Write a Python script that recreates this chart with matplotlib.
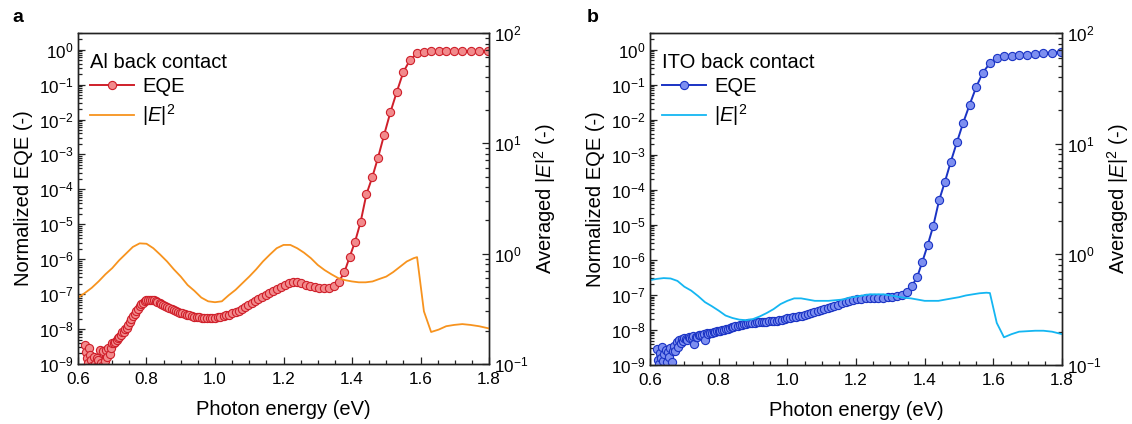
import numpy as np
import matplotlib
matplotlib.use("Agg")
import matplotlib.pyplot as plt
from matplotlib.ticker import LogLocator, MultipleLocator, FormatStrFormatter, NullFormatter

plt.rcParams['font.family'] = ['Liberation Sans', 'DejaVu Sans']
plt.rcParams['mathtext.fontset'] = 'custom'
plt.rcParams['mathtext.rm'] = 'Liberation Sans'
plt.rcParams['mathtext.it'] = 'Liberation Sans:italic'
plt.rcParams['mathtext.default'] = 'regular'

# EQE scan points (photon energy, eV)
energy_eqe = [
    0.620, 0.623, 0.626, 0.629, 0.633, 0.636, 0.639, 0.642, 0.646, 0.649, 0.653, 0.656,
    0.659, 0.663, 0.667, 0.670, 0.674, 0.678, 0.681, 0.685, 0.689, 0.693, 0.697, 0.700,
    0.704, 0.708, 0.713, 0.717, 0.721, 0.725, 0.729, 0.734, 0.738, 0.742, 0.747, 0.751,
    0.756, 0.761, 0.765, 0.770, 0.775, 0.780, 0.785, 0.790, 0.795, 0.800, 0.805, 0.810,
    0.816, 0.821, 0.827, 0.832, 0.838, 0.843, 0.849, 0.855, 0.861, 0.867, 0.873, 0.879,
    0.886, 0.892, 0.898, 0.905, 0.912, 0.918, 0.925, 0.932, 0.939, 0.946, 0.954, 0.961,
    0.969, 0.976, 0.984, 0.992, 1.000, 1.008, 1.016, 1.025, 1.033, 1.042, 1.051, 1.060,
    1.069, 1.078, 1.088, 1.097, 1.107, 1.117, 1.127, 1.137, 1.148, 1.159, 1.170, 1.181,
    1.192, 1.204, 1.216, 1.228, 1.240, 1.252, 1.265, 1.278, 1.292, 1.305, 1.319, 1.333,
    1.348, 1.362, 1.378, 1.393, 1.409, 1.425, 1.442, 1.459, 1.476, 1.494, 1.512, 1.531,
    1.550, 1.569, 1.590, 1.610, 1.631, 1.653, 1.675, 1.698, 1.722, 1.746, 1.771, 1.797,
]

# normalized EQE, Al back contact (panel a)
eqe_al = [
    3.4e-9, 2.2e-9, 1.5e-9, 1.1e-9, 2.9e-9, 1.8e-9, 1.3e-9, 0.9e-9, 1.6e-9, 1.0e-9, 0.8e-9, 1.5e-9,
    1.3e-9, 2.5e-9, 1.1e-9, 0.9e-9, 2.4e-9, 1.2e-9, 2.6e-9, 1.6e-9, 2.9e-9, 1.9e-9, 2.8e-9, 3.9e-9,
    4.0e-9, 4.3e-9, 4.9e-9, 5.4e-9, 5.9e-9, 6.8e-9, 8.0e-9, 8.5e-9, 1.0e-8, 1.1e-8, 1.35e-8, 1.6e-8,
    1.9e-8, 2.3e-8, 2.7e-8, 3.2e-8, 3.8e-8, 4.5e-8, 5.1e-8, 5.7e-8, 6.2e-8, 6.6e-8, 6.8e-8, 6.9e-8,
    6.8e-8, 6.6e-8, 6.3e-8, 6.0e-8, 5.6e-8, 5.3e-8, 5.0e-8, 4.7e-8, 4.4e-8, 4.1e-8, 3.8e-8, 3.6e-8,
    3.3e-8, 3.1e-8, 2.95e-8, 2.8e-8, 2.65e-8, 2.55e-8, 2.45e-8, 2.35e-8, 2.28e-8, 2.22e-8, 2.17e-8, 2.13e-8,
    2.1e-8, 2.08e-8, 2.08e-8, 2.08e-8, 2.1e-8, 2.15e-8, 2.2e-8, 2.3e-8, 2.45e-8, 2.6e-8, 2.8e-8, 3.0e-8,
    3.3e-8, 3.7e-8, 4.2e-8, 4.8e-8, 5.5e-8, 6.3e-8, 7.2e-8, 8.3e-8, 9.6e-8, 1.1e-7, 1.25e-7, 1.45e-7,
    1.65e-7, 1.85e-7, 2.05e-7, 2.2e-7, 2.2e-7, 2.05e-7, 1.85e-7, 1.7e-7, 1.6e-7, 1.52e-7, 1.48e-7, 1.48e-7,
    1.7e-7, 2.3e-7, 4.3e-7, 1.15e-6, 3.2e-6, 1.15e-5, 7.2e-5, 2.2e-4, 8.1e-4, 3.7e-3, 1.6e-2, 6.3e-2,
    2.3e-1, 5.0e-1, 8.0e-1, 8.6e-1, 8.9e-1, 9.0e-1, 9.0e-1, 9.0e-1, 9.0e-1, 9.0e-1, 9.0e-1, 9.0e-1,
]

# normalized EQE, ITO back contact (panel b)
eqe_ito = [
    2.9e-9, 1.4e-9, 1.1e-9, 2.2e-9, 1.6e-9, 3.2e-9, 1.3e-9, 2.0e-9, 2.6e-9, 1.2e-9, 2.3e-9, 1.7e-9,
    3.0e-9, 1.2e-9, 2.5e-9, 3.6e-9, 2.5e-9, 4.6e-9, 3.2e-9, 5.1e-9, 4.2e-9, 5.6e-9, 4.8e-9, 5.9e-9,
    5.4e-9, 5.1e-9, 6.3e-9, 5.9e-9, 6.0e-9, 6.6e-9, 4.0e-9, 6.5e-9, 6.4e-9, 7.0e-9, 7.3e-9, 7.0e-9,
    7.6e-9, 5.2e-9, 8.0e-9, 7.8e-9, 8.3e-9, 8.1e-9, 8.6e-9, 9.0e-9, 9.3e-9, 9.5e-9, 9.6e-9, 9.9e-9,
    1.03e-8, 1.06e-8, 1.1e-8, 1.14e-8, 1.18e-8, 1.22e-8, 1.27e-8, 1.32e-8, 1.36e-8, 1.4e-8, 1.45e-8, 1.5e-8,
    1.55e-8, 1.58e-8, 1.6e-8, 1.63e-8, 1.66e-8, 1.68e-8, 1.7e-8, 1.72e-8, 1.74e-8, 1.76e-8, 1.79e-8, 1.82e-8,
    1.86e-8, 1.91e-8, 1.97e-8, 2.05e-8, 2.15e-8, 2.25e-8, 2.32e-8, 2.4e-8, 2.48e-8, 2.56e-8, 2.7e-8, 2.85e-8,
    3.0e-8, 3.2e-8, 3.45e-8, 3.75e-8, 4.0e-8, 4.3e-8, 4.6e-8, 4.9e-8, 5.3e-8, 5.7e-8, 6.2e-8, 6.7e-8,
    7.2e-8, 7.6e-8, 7.9e-8, 8.1e-8, 8.2e-8, 8.2e-8, 8.2e-8, 8.3e-8, 8.5e-8, 8.7e-8, 9.2e-8, 1.0e-7,
    1.2e-7, 1.75e-7, 3.2e-7, 8.7e-7, 2.7e-6, 9.3e-6, 5.0e-5, 1.7e-4, 6.3e-4, 2.3e-3, 8.1e-3, 2.7e-2,
    8.5e-2, 2.2e-1, 4.1e-1, 5.7e-1, 6.5e-1, 6.8e-1, 7.1e-1, 7.2e-1, 7.6e-1, 8.1e-1, 8.3e-1, 8.5e-1,
]

# simulated field intensity grid (eV)
energy_field = [
    0.60, 0.62, 0.64, 0.66, 0.68, 0.70, 0.72, 0.74, 0.76, 0.78,
    0.80, 0.82, 0.84, 0.86, 0.88, 0.90, 0.92, 0.94, 0.96, 0.98,
    1.00, 1.02, 1.04, 1.06, 1.08, 1.10, 1.12, 1.14, 1.16, 1.18,
    1.20, 1.22, 1.24, 1.26, 1.28, 1.30, 1.32, 1.34, 1.36, 1.38,
    1.40, 1.42, 1.44, 1.46, 1.48, 1.50, 1.52, 1.54, 1.56, 1.58,
    1.590, 1.610, 1.631, 1.653, 1.675, 1.698, 1.722, 1.746, 1.771, 1.800,
]

field_al = [
    0.40, 0.44, 0.49, 0.56, 0.65, 0.74, 0.87, 1.00, 1.15, 1.24,
    1.23, 1.12, 0.98, 0.85, 0.72, 0.62, 0.52, 0.46, 0.40, 0.37,
    0.363, 0.37, 0.42, 0.47, 0.54, 0.62, 0.72, 0.85, 0.98, 1.12,
    1.20, 1.20, 1.12, 1.02, 0.91, 0.79, 0.71, 0.65, 0.60, 0.575,
    0.56, 0.55, 0.55, 0.56, 0.59, 0.62, 0.68, 0.76, 0.85, 0.91,
    0.93, 0.30, 0.195, 0.205, 0.22, 0.226, 0.23, 0.226, 0.22, 0.21,
]

field_ito = [
    0.585, 0.60, 0.61, 0.605, 0.575, 0.51, 0.47, 0.42, 0.37, 0.34,
    0.31, 0.28, 0.266, 0.257, 0.254, 0.26, 0.275, 0.295, 0.32, 0.355,
    0.38, 0.40, 0.40, 0.39, 0.38, 0.38, 0.38, 0.385, 0.39, 0.405,
    0.415, 0.425, 0.435, 0.435, 0.435, 0.425, 0.415, 0.405, 0.40, 0.39,
    0.38, 0.38, 0.38, 0.39, 0.40, 0.41, 0.425, 0.435, 0.445, 0.45,
    0.447, 0.24, 0.178, 0.19, 0.20, 0.202, 0.204, 0.204, 0.20, 0.19,
]

FS = 14.5
TICK_FS = 12.3


def draw_panel(ax, eqe, field, line_c, face_c, field_c, title):
    ax2 = ax.twinx()
    h1, = ax.plot(energy_eqe, eqe, '-o', color=line_c, lw=1.4, ms=5.9,
                  mfc=face_c, mec=line_c, mew=0.8, label='EQE')
    h2, = ax2.plot(energy_field, field, color=field_c, lw=1.3,
                   label=r'$|\mathit{E}|^2$')

    ax.set_xlim(0.6, 1.8)
    ax.set_yscale('log')
    ax.set_ylim(1e-9, 3)
    ax2.set_yscale('log')
    ax2.set_ylim(0.1, 100)

    ax.xaxis.set_major_locator(MultipleLocator(0.2))
    ax.xaxis.set_minor_locator(MultipleLocator(0.05))
    ax.xaxis.set_major_formatter(FormatStrFormatter('%.1f'))
    for a in (ax, ax2):
        a.yaxis.set_major_locator(LogLocator(base=10, numticks=20))
        a.yaxis.set_minor_locator(LogLocator(base=10, subs=np.arange(2, 10), numticks=20))
        a.yaxis.set_minor_formatter(NullFormatter())
        for s in a.spines.values():
            s.set_linewidth(1.0)
            s.set_color('#222222')

    ax.tick_params(which='both', direction='in', top=False, right=False,
                   labelsize=TICK_FS, width=0.9, color='#222222')
    ax.tick_params(which='major', length=5)
    ax.tick_params(which='minor', length=2.8)
    ax.tick_params(axis='x', which='major', pad=6)
    ax2.tick_params(which='both', direction='in', left=False, right=True,
                    labelsize=TICK_FS, width=0.9, color='#222222')
    ax2.tick_params(which='major', length=5)
    ax2.tick_params(which='minor', length=2.8)

    ax.set_xlabel('Photon energy (eV)', fontsize=FS, labelpad=9)
    ax.set_ylabel('Normalized EQE (-)', fontsize=FS, labelpad=4)
    ax2.set_ylabel(r'Averaged $|\mathit{E}|^2$ (-)', fontsize=FS, labelpad=3)

    ax2.legend(handles=[h1, h2], title=title, loc='upper left', frameon=False,
               bbox_to_anchor=(0.012, 0.962), alignment='left',
               fontsize=FS, title_fontsize=FS,
               handlelength=2.2, handletextpad=0.4, borderaxespad=0.0,
               borderpad=0.35, labelspacing=0.28)


fig = plt.figure(figsize=(11.32, 4.24), dpi=100)
ax_a = fig.add_axes([78 / 1132, 60 / 424, 411 / 1132, 331 / 424])
ax_b = fig.add_axes([650 / 1132, 59 / 424, 412 / 1132, 332 / 424])

draw_panel(ax_a, eqe_al, field_al, '#cf1f2a', '#f28a8c', '#f7931e', 'Al back contact')
draw_panel(ax_b, eqe_ito, field_ito, '#1a33c4', '#7d8ff0', '#14b6f2', 'ITO back contact')

fig.text(18 / 1132, 1 - 17 / 424, 'a', fontsize=14, fontweight='bold', ha='center', va='center')
fig.text(593 / 1132, 1 - 18 / 424, 'b', fontsize=14, fontweight='bold', ha='center', va='center')

fig.savefig('out.png', dpi=100)
